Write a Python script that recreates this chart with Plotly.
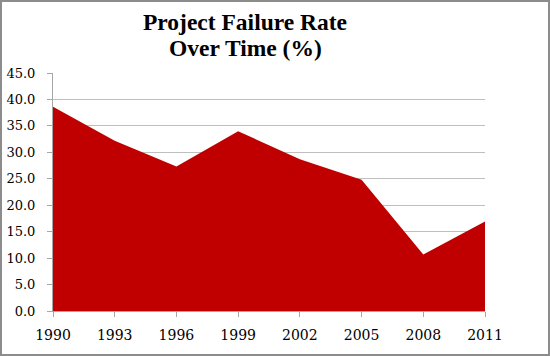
import plotly.graph_objects as go

years = ["1990", "1993", "1996", "1999", "2002", "2005", "2008", "2011"]
failure_rate = [38.6, 32.2, 27.3, 34.0, 28.7, 24.8, 10.7, 16.9]
title_lines = ["Project Failure Rate", "Over Time (%)"]

W, H = 550, 356
ml, mr, mt, mb = 53, 65, 73, 45
pw, ph = W - ml - mr, H - mt - mb

fig = go.Figure()
fig.add_trace(go.Scatter(
    x=years, y=failure_rate, mode="lines", fill="tozeroy",
    fillcolor="#C00000", line=dict(color="#C00000", width=0),
    hoverinfo="x+y", showlegend=False,
))

title_centers_px = [22, 48]
annotations = []
for line, yc in zip(title_lines, title_centers_px):
    annotations.append(dict(
        text="<b>" + line + "</b>", xref="paper", yref="paper",
        x=(245 - ml) / pw, y=1 + (mt - yc) / ph,
        xanchor="center", yanchor="middle", showarrow=False,
        font=dict(family="Liberation Serif", size=23.5, color="#000000"),
    ))

axis_gray = "#A6A6A6"
fig.update_layout(
    width=W, height=H,
    margin=dict(l=ml, r=mr, t=mt, b=mb, pad=0, autoexpand=False),
    paper_bgcolor="white", plot_bgcolor="white",
    font=dict(family="DejaVu Serif", size=14, color="#000000"),
    annotations=annotations,
    xaxis=dict(
        type="category", range=[0, len(years) - 1], automargin=False,
        showgrid=False, showline=True, linecolor=axis_gray, linewidth=1,
        ticks="outside", ticklen=5, tickcolor=axis_gray, tickwidth=1,
        ticklabelstandoff=6,
        tickfont=dict(family="DejaVu Serif", size=14, color="#000000"),
        fixedrange=True,
    ),
    yaxis=dict(
        range=[0, 45], dtick=5, tick0=0, tickformat=".1f", automargin=False,
        showgrid=True, gridcolor="#BFBFBF", gridwidth=1,
        showline=True, linecolor=axis_gray, linewidth=1,
        ticks="outside", ticklen=5, tickcolor=axis_gray, tickwidth=1,
        ticklabelstandoff=9,
        tickfont=dict(family="DejaVu Serif", size=13, color="#000000"),
        zeroline=False, fixedrange=True,
    ),
    shapes=[dict(
        type="rect", xref="paper", yref="paper",
        x0=-(ml - 1) / pw, x1=1 + (mr - 1) / pw,
        y0=-(mb - 1) / ph, y1=1 + (mt - 1) / ph,
        line=dict(color="#8C8C8C", width=2), fillcolor="rgba(0,0,0,0)",
        layer="above",
    )],
)

fig.write_html(
    "out.html",
    config={"displayModeBar": False},
    post_script="document.body.style.margin='0';document.body.style.overflow='hidden';",
)
